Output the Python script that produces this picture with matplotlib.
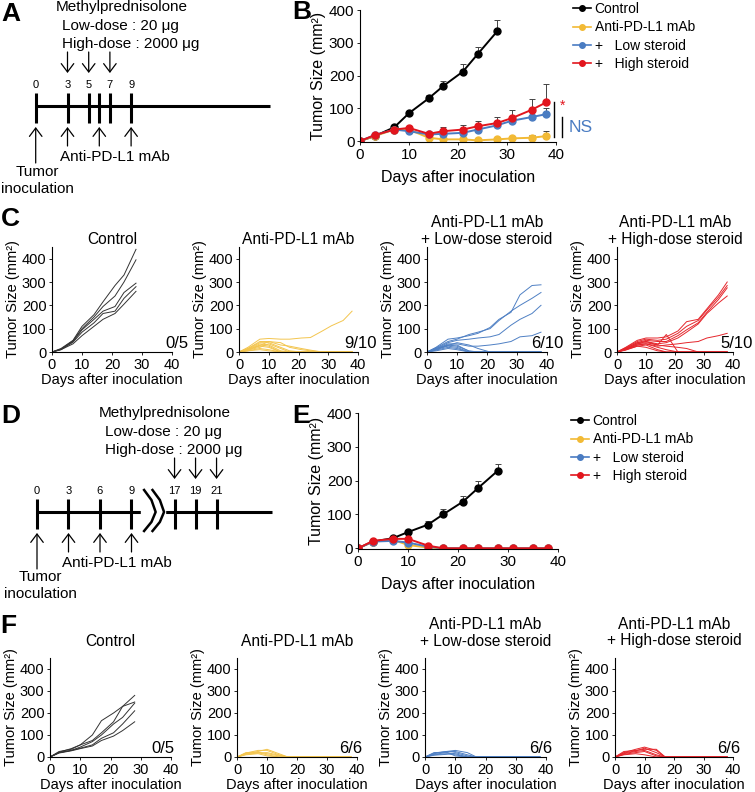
import numpy as np
import matplotlib
matplotlib.use('Agg')
import matplotlib.pyplot as plt

plt.rcParams['font.family'] = ['Liberation Sans', 'DejaVu Sans']

# ---------------- data ----------------
days = [0, 3, 7, 10, 14, 17, 21, 24, 28, 31, 35, 38]
ctrl_days = [0, 3, 7, 10, 14, 17, 21, 24, 28]

# panel B (means +/- SE)
b_ctrl = [0, 15, 42, 85, 130, 168, 212, 265, 335]
b_ctrl_err = [0, 3, 4, 5, 12, 15, 23, 22, 35]
b_anti = [0, 15, 35, 35, 10, 5, 5, 2, 5, 8, 10, 15]
b_anti_err = [0, 3, 5, 6, 5, 3, 4, 3, 6, 8, 8, 17]
b_low = [0, 18, 35, 30, 20, 22, 25, 35, 48, 62, 73, 82]
b_low_err = [0, 3, 5, 5, 5, 6, 8, 10, 12, 14, 15, 18]
b_high = [0, 18, 35, 40, 22, 30, 35, 45, 55, 70, 95, 118]
b_high_err = [0, 3, 5, 5, 5, 12, 13, 15, 17, 25, 33, 55]

# panel E
e_ctrl = [0, 20, 30, 48, 70, 100, 138, 178, 230]
e_ctrl_err = [0, 2, 4, 5, 12, 16, 17, 22, 20]
e_anti = [0, 20, 25, 10, 2, 0, 0, 0, 0, 0, 0, 0]
e_low = [0, 20, 22, 17, 5, 0, 0, 0, 0, 0, 0, 0]
e_high = [0, 22, 28, 28, 8, 0, 0, 0, 0, 0, 0, 0]

# panel C individual mice
c_ctrl = [
    [0, 15, 50, 110, 160, 215, 285, 330, 440],
    [0, 12, 48, 100, 150, 195, 240, 300, 395],
    [0, 12, 45, 95, 140, 175, 195, 255, 295],
    [0, 10, 42, 85, 125, 165, 175, 230, 280],
    [0, 10, 35, 70, 110, 140, 165, 205, 260],
]
c_anti = [
    [0, 20, 55, 58, 55, 55, 60, 62, 90, 112, 135, 175],
    [0, 15, 45, 45, 30, 25, 15, 8, 0, 0, 0, 0],
    [0, 15, 40, 40, 20, 5, 0, 0, 0, 0, 0, 0],
    [0, 12, 35, 30, 5, 0, 0, 0, 0, 0, 0, 0],
    [0, 10, 30, 25, 0, 0, 0, 0, 0, 0, 0, 0],
    [0, 10, 25, 20, 0, 0, 0, 0, 0, 0, 0, 0],
    [0, 8, 20, 35, 15, 0, 0, 0, 0, 0, 0, 0],
    [0, 5, 15, 10, 0, 0, 0, 0, 0, 0, 0, 0],
    [0, 5, 10, 5, 0, 0, 0, 0, 0, 0, 0, 0],
    [0, 10, 28, 45, 40, 20, 10, 5, 0, 0, 0, 0],
]
c_low = [
    [0, 20, 55, 60, 70, 80, 105, 140, 170, 245, 285, 288],
    [0, 18, 45, 55, 75, 85, 100, 135, 175, 200, 230, 255],
    [0, 15, 40, 50, 55, 60, 65, 75, 115, 140, 165, 200],
    [0, 12, 35, 35, 25, 25, 30, 35, 45, 65, 70, 85],
    [0, 15, 30, 25, 5, 0, 0, 0, 0, 0, 0, 0],
    [0, 12, 25, 20, 0, 0, 0, 0, 0, 0, 0, 0],
    [0, 10, 28, 40, 30, 15, 0, 0, 0, 0, 0, 0],
    [0, 8, 20, 15, 0, 0, 0, 0, 0, 0, 0, 0],
    [0, 10, 30, 30, 3, 0, 0, 0, 0, 0, 0, 0],
    [0, 5, 15, 10, 0, 0, 0, 0, 0, 0, 0, 0],
]
c_high = [
    [0, 20, 50, 60, 60, 65, 90, 130, 140, 185, 245, 300],
    [0, 18, 45, 55, 50, 55, 80, 110, 135, 180, 235, 285],
    [0, 15, 40, 50, 45, 45, 70, 95, 125, 170, 225, 275],
    [0, 15, 40, 45, 35, 40, 60, 85, 120, 165, 210, 240],
    [0, 12, 30, 35, 25, 30, 35, 40, 45, 60, 70, 80],
    [0, 12, 35, 40, 30, 75, 0, 0, 0, 0, 0, 0],
    [0, 10, 30, 35, 20, 10, 0, 0, 0, 0, 0, 0],
    [0, 12, 35, 45, 30, 25, 20, 15, 0, 0, 0, 0],
    [0, 8, 25, 30, 10, 0, 0, 0, 0, 0, 0, 0],
    [0, 10, 25, 20, 5, 0, 0, 0, 0, 0, 0, 0],
]

# panel F individual mice
f_ctrl = [
    [0, 22, 38, 55, 100, 165, 200, 230, 250],
    [0, 25, 35, 55, 75, 110, 160, 230, 280],
    [0, 20, 30, 45, 70, 100, 150, 180, 245],
    [0, 20, 30, 40, 55, 85, 110, 150, 210],
    [0, 18, 28, 38, 50, 75, 95, 120, 160],
]
f_anti = [
    [0, 15, 25, 35, 15, 0, 0, 0, 0, 0, 0, 0],
    [0, 18, 30, 30, 10, 0, 0, 0, 0, 0, 0, 0],
    [0, 20, 22, 15, 5, 0, 0, 0, 0, 0, 0, 0],
    [0, 15, 20, 10, 0, 0, 0, 0, 0, 0, 0, 0],
    [0, 12, 18, 20, 8, 0, 0, 0, 0, 0, 0, 0],
    [0, 10, 15, 5, 0, 0, 0, 0, 0, 0, 0, 0],
]
f_low = [
    [0, 15, 25, 30, 20, 0, 0, 0, 0, 0, 0, 0],
    [0, 18, 25, 25, 10, 0, 0, 0, 0, 0, 0, 0],
    [0, 12, 20, 15, 0, 0, 0, 0, 0, 0, 0, 0],
    [0, 10, 15, 10, 0, 0, 0, 0, 0, 0, 0, 0],
    [0, 20, 22, 5, 0, 0, 0, 0, 0, 0, 0, 0],
    [0, 8, 12, 20, 5, 0, 0, 0, 0, 0, 0, 0],
]
f_high = [
    [0, 20, 35, 45, 30, 0, 0, 0, 0, 0, 0, 0],
    [0, 25, 30, 35, 35, 0, 0, 0, 0, 0, 0, 0],
    [0, 18, 28, 40, 20, 0, 0, 0, 0, 0, 0, 0],
    [0, 15, 25, 30, 10, 0, 0, 0, 0, 0, 0, 0],
    [0, 12, 20, 25, 5, 0, 0, 0, 0, 0, 0, 0],
    [0, 10, 15, 10, 0, 0, 0, 0, 0, 0, 0, 0],
]

c_titles = ['Control', 'Anti-PD-L1 mAb', 'Anti-PD-L1 mAb\n+ Low-dose steroid',
            'Anti-PD-L1 mAb\n+ High-dose steroid']
c_ratio = ['0/5', '9/10', '6/10', '5/10']
f_ratio = ['0/5', '6/6', '6/6', '6/6']
legend_labels = ['Control', 'Anti-PD-L1 mAb', '+   Low steroid', '+   High steroid']

# timelines
a_ticks = [0, 3, 5, 6, 7, 9]
a_tick_labels = {0: '0', 3: '3', 5: '5', 7: '7', 9: '9'}
a_steroid = [3, 5, 7]
a_pdl1 = [3, 6, 9]
d_ticks = [0, 3, 6, 9, 17, 19, 21]
d_steroid = [17, 19, 21]
d_pdl1 = [3, 6, 9]

# colours
K, Y, B, R = '#000000', '#F2BA35', '#4A7CC2', '#E2151D'
K2, Y2, B2, R2 = '#333333', '#F3C54E', '#4F80C4', '#E5262C'

W, H = 755, 792
fig = plt.figure(figsize=(W / 100, H / 100), dpi=100)


def px_axes(l, t, r, b):
    return fig.add_axes([l / W, 1 - b / H, (r - l) / W, (b - t) / H])


def px_text(x, y, s, **kw):
    fig.text(x / W, 1 - y / H, s, **kw)


def style(ax, fs):
    for s in ['top', 'right']:
        ax.spines[s].set_visible(False)
    for s in ['left', 'bottom']:
        ax.spines[s].set_linewidth(0.8)
    ax.tick_params(direction='out', length=2, width=0.6, labelsize=fs, pad=2)


# ---------------- timelines A and D ----------------
def timeline(ax, pos, labels, steroid, pdl1, y, end):
    ax.hlines(y, pos(0), end, color='k', lw=2.2)
    for d in labels:
        ax.vlines(pos(d), y - 13, y + 17, color='k', lw=2.2)
    for d, s in labels.items():
        if s:
            ax.text(pos(d), y - 21, s, ha='center', va='center', fontsize=8)
    arr = dict(arrowstyle='->,head_length=0.6,head_width=0.45', lw=0.9, color='k',
               shrinkA=0, shrinkB=0)
    for d in steroid:
        ax.annotate('', xy=(pos(d), y - 33), xytext=(pos(d), y - 54), arrowprops=arr)
    for d in pdl1:
        ax.annotate('', xy=(pos(d), y + 21), xytext=(pos(d), y + 40), arrowprops=arr)
    ax.annotate('', xy=(pos(0), y + 21), xytext=(pos(0), y + 57), arrowprops=arr)


axA = px_axes(0, 0, 290, 200)
axA.set_xlim(-35.7 / 10.6, (290 - 35.7) / 10.6)
axA.set_ylim(200, 0)
axA.axis('off')
timeline(axA, lambda d: d, {d: a_tick_labels.get(d, '') for d in a_ticks},
         a_steroid, a_pdl1, 106, 22.1)

gap = 3.9
axD = px_axes(0, 400, 290, 600)
axD.set_xlim(-37 / 10.5, (290 - 37) / 10.5)
axD.set_ylim(200, 0)
axD.axis('off')
dpos = lambda d: d if d <= 9 else d - gap
timeline(axD, dpos, {d: str(d) for d in d_ticks}, d_steroid, d_pdl1, 112, 22.4)
# axis break
axD.fill_between([9.9, 12.2], 104, 120, color='white', zorder=3)
for x0 in [10.2, 11.0]:
    axD.plot([x0, x0 + 0.7, x0 + 1.1, x0 + 0.7, x0], [90, 100, 112, 122, 131],
             color='k', lw=1.8, zorder=4, solid_joinstyle='round')

for (tx, ty), lx in [((122, 7), 62), ((165, 413), 105)]:
    px_text(tx, ty, 'Methylprednisolone', ha='center', va='center', fontsize=11)
    px_text(lx, ty + 19, 'Low-dose : 20 \u03bcg', ha='left', va='center', fontsize=11)
    px_text(lx, ty + 37, 'High-dose : 2000 \u03bcg', ha='left', va='center', fontsize=11)
for x, y in [(115, 157), (117, 563)]:
    px_text(x, y, 'Anti-PD-L1 mAb', ha='center', va='center', fontsize=11)
for x, y in [(37, 172), (40, 577)]:
    px_text(x, y, 'Tumor', ha='center', va='center', fontsize=11)
    px_text(x, y + 17, 'inoculation', ha='center', va='center', fontsize=11)


# ---------------- mean panels B and E ----------------
def mean_panel(ax, series, ylim):
    style(ax, 11)
    for d, m, e, c in series:
        if e is not None:
            ax.errorbar(d, m, yerr=[np.zeros(len(e)), e], fmt='none', ecolor='#444444',
                        elinewidth=0.7, capsize=2, capthick=0.7, zorder=1)
        ax.plot(d, m, '-o', color=c, lw=1.4, ms=5, zorder=2)
    ax.set_xlim(0, 40)
    ax.set_ylim(*ylim)
    ax.set_xticks([0, 10, 20, 30, 40])
    ax.set_yticks([0, 100, 200, 300, 400])
    ax.set_xlabel('Days after inoculation', fontsize=11.5, labelpad=6)
    ax.set_ylabel('Tumor Size (mm\u00b2)', fontsize=11.5, labelpad=2)


axB = px_axes(360, 10, 556, 142)
mean_panel(axB, [(ctrl_days, b_ctrl, b_ctrl_err, K), (days, b_anti, b_anti_err, Y),
                 (days, b_low, b_low_err, B), (days, b_high, b_high_err, R)], (-3, 400))
axB.plot([39.6, 39.6], [b_high[-1], b_anti[-1] - 3], color='k', lw=1, clip_on=False)
axB.plot([41.3, 41.3], [b_low[-1] - 10, b_anti[-1] - 3], color='k', lw=1, clip_on=False)
axB.text(41.4, b_high[-1] - 10, '*', color=R, fontsize=10, ha='center', va='center')
axB.text(42.6, 42, 'NS', color=B, fontsize=12.5, ha='left', va='center')

axE = px_axes(358, 413, 558, 549)
mean_panel(axE, [(ctrl_days, e_ctrl, e_ctrl_err, K), (days, e_anti, None, Y),
                 (days, e_low, None, B), (days, e_high, None, R)], (-2, 400))

for ax, (lx, ly) in [(axB, (573, 2)), (axE, (571, 414))]:
    handles = [plt.Line2D([], [], color=c, marker='o', ms=4, lw=1.2) for c in [K, Y, B, R]]
    fig.legend(handles, legend_labels, loc='upper left',
               bbox_to_anchor=(lx / W, 1 - ly / H), frameon=False, fontsize=10,
               handlelength=1.3, handletextpad=0.25, labelspacing=0.32,
               borderpad=0, borderaxespad=0)


# ---------------- individual panels C and F ----------------
def indiv_panel(ax, dlist, curves, color, title, ratio, rpad, tpad):
    style(ax, 10.5)
    for cur in curves:
        ax.plot(dlist[:len(cur)], cur, color=color, lw=0.7)
    ax.set_xlim(0, 40)
    ax.set_ylim(0, 450)
    ax.set_xticks([0, 10, 20, 30, 40])
    ax.set_yticks([0, 100, 200, 300, 400])
    ax.set_xlabel('Days after inoculation', fontsize=10.5, labelpad=1)
    ax.set_ylabel('Tumor Size (mm\u00b2)', fontsize=10.5, labelpad=1)
    ax.set_title(title, fontsize=11.2, pad=tpad, linespacing=1.15)
    ax.annotate(ratio, xy=(1, 0), xycoords='axes fraction', xytext=(rpad, 1),
                textcoords='offset pixels', ha='right', va='bottom', fontsize=12)


c_rects = [(52, 247, 172, 352), (239, 247, 358, 352), (427, 247, 547, 352), (617, 247, 733, 352)]
f_rects = [(50, 658, 171, 757), (237, 658, 357, 757), (425, 658, 546, 757), (615, 658, 733, 757)]
c_pads = [17, 19, 17, 20]
f_pads = [4, 5, 6, 7]
c_sets = [c_ctrl, c_anti, c_low, c_high]
f_sets = [f_ctrl, f_anti, f_low, f_high]
cols = [K2, Y2, B2, R2]
for i in range(4):
    axc = px_axes(*c_rects[i])
    indiv_panel(axc, days, c_sets[i], cols[i], c_titles[i], c_ratio[i], c_pads[i], 2)
    axf = px_axes(*f_rects[i])
    indiv_panel(axf, days, f_sets[i], cols[i], c_titles[i], f_ratio[i], f_pads[i], 9)

# panel letters
for s, x, y in [('A', 1, 14), ('B', 292, 12), ('C', 1, 219), ('D', 1, 416),
                ('E', 292, 416), ('F', 0, 626)]:
    px_text(x, y, s, ha='left', va='center', fontsize=19, fontweight='bold')

fig.savefig('out.png', dpi=100)
